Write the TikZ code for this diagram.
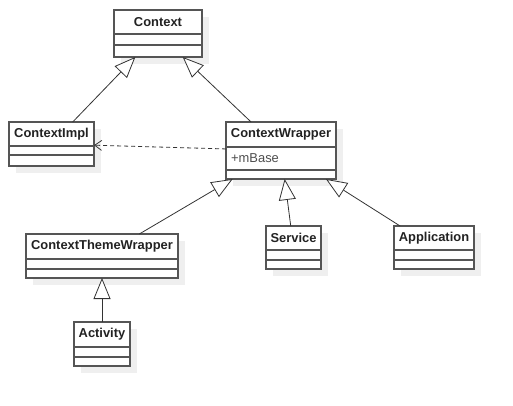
\documentclass[tikz,border=0pt]{standalone}
\usepackage{fontspec}
\setmainfont{Liberation Sans}
\usetikzlibrary{arrows.meta}
\definecolor{boxline}{HTML}{555555}
\definecolor{conn}{HTML}{333333}
\definecolor{shadowc}{HTML}{EFEFEF}
\definecolor{txt}{HTML}{222222}
\newcommand\umlclass[8]{%
  \fill[shadowc] (#2+7,-#3-7) rectangle (#4+7,-#5-7);
  \node[classbox, minimum width={#4-#2}, minimum height={#5-#3}] (#1) at ({(#2+#4)/2},{-(#3+#5)/2}) {};
  \node[classtitle] (#1-t) at ({(#2+#4)/2},{-(#3+#6)/2}) {#8};
  \draw[classline] (#2,-#6) -- (#4,-#6);
  \draw[classline] (#2,-#7) -- (#4,-#7);
}
\begin{document}
\begin{tikzpicture}[x=1pt,y=1pt,
  classbox/.style={draw=boxline, line width=1.6pt, fill=white, rectangle, inner sep=0pt, outer sep=0pt},
  classline/.style={draw=boxline, line width=1.6pt},
  classtitle/.style={inner sep=0pt, text=txt, font=\fontsize{12.9}{14}\selectfont\bfseries},
  attr/.style={inner sep=0pt, anchor=west, text=txt!80!white, font=\fontsize{12.9}{14}\selectfont},
  gen/.style={draw=conn, line width=0.8pt, -{Triangle[length=21pt,width=17pt,fill=white,line width=0.8pt]}},
  dep/.style={draw=conn, line width=0.8pt, dash pattern=on 4pt off 3pt, -{Straight Barb[length=7pt,width=10pt,line width=0.8pt]}}
]
\useasboundingbox (0,0) rectangle (513,-406);
\umlclass{ctx}{114}{10}{202}{57}{34}{45}{Context}
\umlclass{impl}{9}{122}{94}{166}{146}{155}{ContextImpl}
\umlclass{cw}{226}{122}{336}{179}{147}{170}{ContextWrapper}
\node[attr] (cw-a) at (231,-158.5) {+mBase};
\umlclass{ctw}{26}{234}{178}{278}{259}{269}{ContextThemeWrapper}
\umlclass{svc}{266}{226}{321}{269}{250}{260}{Service}
\umlclass{app}{394}{226}{474}{269}{250}{260}{Application}
\umlclass{act}{74}{322}{130}{366}{347}{357}{Activity}
\draw[gen] (impl) -- (ctx);
\draw[gen] (cw) -- (ctx);
\draw[dep] (cw) -- (impl);
\draw[gen] (ctw) -- (cw);
\draw[gen] (svc) -- (cw);
\draw[gen] (app) -- (cw);
\draw[gen] (act) -- (ctw);
\end{tikzpicture}
\end{document}
